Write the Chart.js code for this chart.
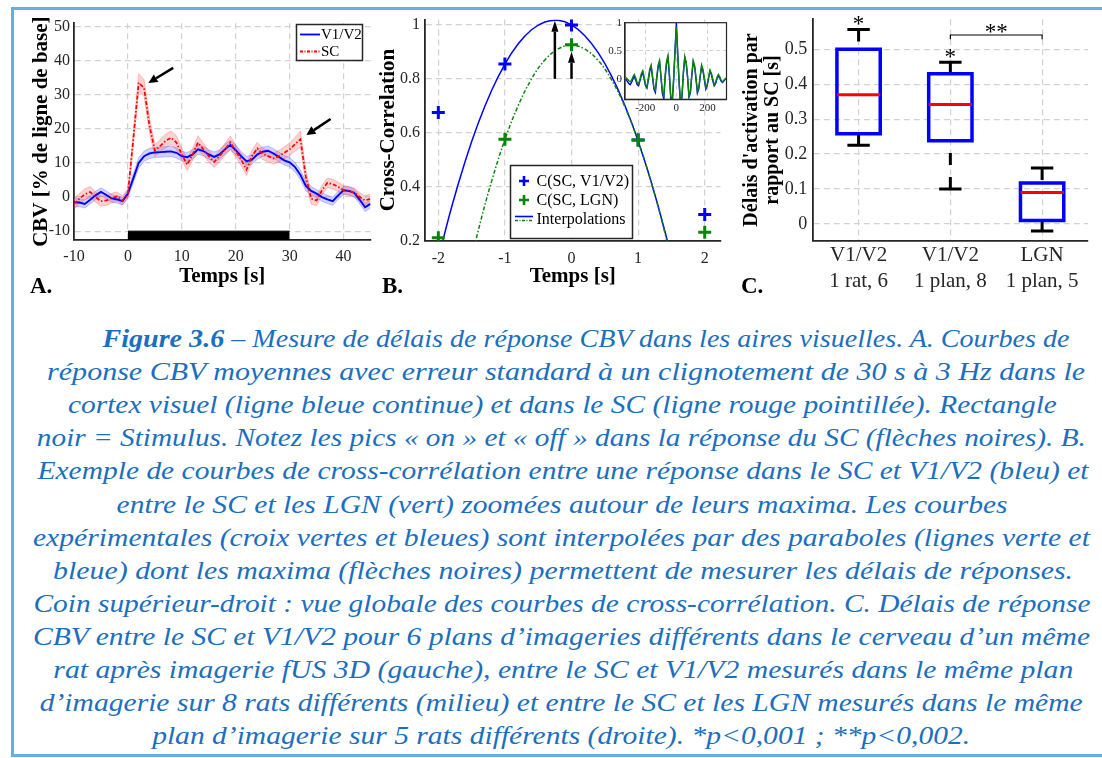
<!DOCTYPE html>
<html lang="fr">
<head>
<meta charset="utf-8">
<title>Figure 3.6</title>
<script src="https://cdn.jsdelivr.net/npm/chart.js@4.4.1/dist/chart.umd.min.js"></script>
<style>
  html, body { margin:0; padding:0; background:#ffffff; }
  body { position:relative; width:1102px; height:758px; overflow:hidden; }
  .bar { position:absolute; background:#62b1e6; }
  canvas { position:absolute; }
  .plabel { position:absolute; font:bold 23px "Liberation Serif", serif; color:#000; line-height:23px; }
  .capline { position:absolute; left:0; width:1102px; height:32px; line-height:32px; text-align:center; white-space:nowrap; color:#1b6fbe; font-family:"Liberation Serif", serif; font-style:italic; font-size:25px; }
  .capline span { display:inline-block; transform-origin:50% 50%; }
</style>
</head>
<body>
<div class="bar" style="left:11px;top:7px;width:1091px;height:3px"></div>
<div class="bar" style="left:11px;top:7px;width:3px;height:750px"></div>
<div class="bar" style="left:11px;top:754px;width:1091px;height:3px"></div>

<canvas id="cA" width="380" height="300" style="left:0;top:0"></canvas>
<canvas id="cB" width="355" height="300" style="left:375px;top:0"></canvas>
<canvas id="cIn" width="137" height="105" style="left:595px;top:12px"></canvas>
<canvas id="cC" width="372" height="300" style="left:730px;top:0"></canvas>
<div class="plabel" style="left:30px;top:274px">A.</div>
<div class="plabel" style="left:382px;top:274px">B.</div>
<div class="plabel" style="left:741px;top:274px">C.</div>
<div id="caption"></div>

<script>
// ---------------- DATA ----------------
// Panel A : time course (s)
const timeA = [-10,-9,-8,-7,-6,-5,-4,-3,-2,-1,0,1,2,3,4,5,6,7,8,9,10,11,12,13,14,15,16,17,18,19,20,21,22,23,24,25,26,27,28,29,30,31,32,33,34,35,36,37,38,39,40,41,42,43,44,45];
const v1v2 = [-1.5,-1.6,-2,-0.8,0.5,1.5,0.6,-0.4,-0.7,-1.2, 1,5.5,10,12,12.8,13.1,13.2,13.3,13.4,13, 12,11.7,12.5,14,13.5,12.5,11.8,12.5,14,15.3, 13.8,12,10.5,11,12.5,13.3,13.6,12.8,11.8,10.8, 10.2,8.8,6.5,3.3,1.8,1,0,-0.7,-1.2,0.5, 2,1.8,1.2,-0.8,-3,-2];
const v1v2Err = [1.2,1.2,1.2,1.2,1.2,1.2,1.2,1.1,1.1,1.1, 1.1,1.3,1.5,1.5,1.5,1.5,1.5,1.5,1.5,1.5, 1.4,1.4,1.4,1.4,1.4,1.4,1.4,1.4,1.4,1.4, 1.4,1.4,1.4,1.4,1.4,1.4,1.4,1.4,1.4,1.4, 1.4,1.4,1.4,1.4,1.3,1.2,1.2,1.2,1.2,1.2, 1.2,1.2,1.2,1.2,1.2,1.2];
const sc = [-2,-0.5,0.8,1.5,0,-1.2,-1,-0.3,0.2,-1, 1,17,33.6,32,21,13.6,15,16.5,17.4,16, 12.5,9.5,12.5,16,14,12,10.3,12,14,16, 13.5,11,8,12,14.3,12.7,12,11.3,12,13, 14,15.5,17,6,-0.5,-1,2,4.2,3.8,3, 2,1.8,1.3,0,-1,-0.5];
const scErr = [1.5,1.5,1.6,1.6,1.5,1.5,1.4,1.4,1.3,1.3, 1.5,2,2.6,2.5,2.2,1.8,1.8,2,2,2, 1.8,1.7,1.8,2,1.8,1.7,1.6,1.6,1.8,1.9, 1.8,1.7,1.6,1.7,1.8,1.7,1.6,1.6,1.7,1.8, 1.9,2,2.4,2,1.6,1.5,1.4,1.4,1.4,1.4, 1.3,1.3,1.3,1.3,1.4,1.4];
const seriesA = ['V1/V2', 'SC'];
const stimOn = 0, stimOff = 30, stimLevel = -10;
const ticksAx = [-10,0,10,20,30,40];
const ticksAy = [-10,0,10,20,30,40,50];
const arrowsA = [ {x0:8.4, y0:37.9, x1:3.8, y1:33.5}, {x0:37.6, y0:22.9, x1:33.1, y1:18.2} ];

// Panel B : cross-correlation around maximum
const lagsB = [-2,-1,0,1,2];
const ccV1 = [0.675,0.855,1.0,0.573,0.297];
const ccLGN = [0.211,0.576,0.926,0.573,0.231];
const fitX = [-2.0,-1.8,-1.6,-1.4,-1.2,-1.0,-0.8,-0.6,-0.4,-0.2,0,0.2,0.4,0.6,0.8,1.0,1.2,1.4,1.6];
const fitV1 = [0.135,0.325,0.492,0.636,0.757,0.855,0.930,0.982,1.011,1.017,1.0,0.960,0.897,0.811,0.702,0.570,0.415,0.237,0.036];
const fitLGN = [-0.48,-0.213,0.027,0.238,0.420,0.575,0.701,0.800,0.870,0.911,0.925,0.910,0.868,0.797,0.697,0.570,0.414,0.231,0.019];
const seriesB = ['C(SC, V1/V2)', 'C(SC, LGN)', 'Interpolations'];
const ticksBx = [-2,-1,0,1,2];
const ticksBy = [0.2,0.4,0.6,0.8,1];
const arrowsB = [ {x:-0.25, y0:0.8, y1:1.015}, {x:0, y0:0.8, y1:0.9} ];

// Inset : global cross-correlation
const lagsIn = [-324,-315,-306,-297,-288,-279,-270,-261,-252,-243,-234,-225,-216,-207,-198,-189,-180,-171,-162,-153,-144,-135,-126,-117,-108,-99,-90,-81,-72,-63,-54,-45,-36,-27,-18,-9,0,9,18,27,36,45,54,63,72,81,90,99,108,117,126,135,144,153,162,171,180,189,198,207,216,225,234,243,252,261,270,279,288,297,306,315,324];
const inV1 = [0.0,-0.04,-0.08,-0.1,-0.06,0.0,0.05,-0.02,-0.1,-0.12,-0.03,0.06,0.12,0.0,-0.12,-0.16,-0.02,0.14,0.22,0.02,-0.18,-0.24,0.0,0.22,0.3,0.04,-0.26,-0.35,0.02,0.28,0.38,0.06,-0.35,-0.45,-0.05,0.5,1.0,0.45,-0.1,-0.45,-0.32,0.1,0.38,0.28,0.02,-0.32,-0.25,0.05,0.3,0.22,0.0,-0.25,-0.18,0.04,0.22,0.14,-0.02,-0.18,-0.12,0.02,0.14,0.08,-0.03,-0.12,-0.08,0.01,0.06,0.02,-0.04,-0.06,-0.03,0.0,0.01];
const inLGN = [0.03,0.0,-0.03,-0.05,-0.02,0.04,0.08,0.02,-0.06,-0.09,0.0,0.1,0.15,0.03,-0.1,-0.14,0.02,0.18,0.25,0.05,-0.15,-0.2,0.05,0.25,0.33,0.06,-0.22,-0.3,0.08,0.32,0.42,0.1,-0.3,-0.4,0.0,0.45,0.93,0.4,-0.05,-0.42,-0.28,0.12,0.4,0.3,0.05,-0.3,-0.22,0.08,0.33,0.24,0.04,-0.22,-0.15,0.06,0.25,0.17,0.02,-0.15,-0.1,0.04,0.16,0.1,0.0,-0.1,-0.06,0.03,0.08,0.04,-0.02,-0.05,-0.02,0.01,0.02];
const ticksInX = [-200,0,200];
const ticksInY = [0,0.5,1];

// Panel C : activation delays (box plots)
const groupsC = ['V1/V2','V1/V2','LGN'];
const subC = ['1 rat, 6','1 plan, 8','1 plan, 5'];
const loC  = [0.225, 0.100, -0.020];
const q1C  = [0.258, 0.238, 0.010];
const medC = [0.370, 0.342, 0.090];
const q3C  = [0.500, 0.430, 0.117];
const hiC  = [0.557, 0.463, 0.160];
const ticksCy = [0,0.1,0.2,0.3,0.4,0.5];
const starsC = [ {x:1, y:0.586, t:'*'}, {x:2, y:0.493, t:'*'}, {x:2.5, y:0.565, t:'**'} ];
const sigPair = [2,3], sigLevel = 0.541, sigDrop = 0.012;

const captionLines = [
 'Figure 3.6 – Mesure de délais de réponse CBV dans les aires visuelles. A. Courbes de',
 'réponse CBV moyennes avec erreur standard à un clignotement de 30 s à 3 Hz dans le',
 'cortex visuel (ligne bleue continue) et dans le SC (ligne rouge pointillée). Rectangle',
 'noir = Stimulus. Notez les pics « on » et « off » dans la réponse du SC (flèches noires). B.',
 'Exemple de courbes de cross-corrélation entre une réponse dans le SC et V1/V2 (bleu) et',
 'entre le SC et les LGN (vert) zoomées autour de leurs maxima. Les courbes',
 'expérimentales (croix vertes et bleues) sont interpolées par des paraboles (lignes verte et',
 'bleue) dont les maxima (flèches noires) permettent de mesurer les délais de réponses.',
 'Coin supérieur-droit : vue globale des courbes de cross-corrélation. C. Délais de réponse',
 'CBV entre le SC et V1/V2 pour 6 plans d’imageries différents dans le cerveau d’un même',
 'rat après imagerie fUS 3D (gauche), entre le SC et V1/V2 mesurés dans le même plan',
 'd’imagerie sur 8 rats différents (milieu) et entre le SC et les LGN mesurés dans le même',
 'plan d’imagerie sur 5 rats différents (droite). *p<0,001 ; **p<0,002.'
];
const captionBold = 'Figure 3.6';

// ---------------- LAYOUT / STYLE ----------------
const FONT = '"Liberation Serif", "Times New Roman", serif';
const AXIS = '#262626';
const GRID = '#d2d2d2';
const BLUE = '#0000ff', RED = '#ff0000', GREEN = '#0a850a';
const capSpans = [[103,1070],[47,1085],[68,1057],[37,1086],[37,1088],[117,1008],[33,1090],[53,1073],[33,1090],[33,1090],[53,1073],[40,1083],[152,970]];
const capY0 = 339, capDY = 33.1;

Chart.defaults.font.family = FONT;

const numLabel = v => String(v);
function tickSetter(vals){ return s => { s.ticks = vals.map(v => ({value:v})); }; }
function baseScale(o){
  return Object.assign({
    type:'linear',
    grid:{color:GRID, lineWidth:1.2, drawTicks:false},
    border:{display:true, color:AXIS, width:1.8, dash:[6,4]},
  }, o);
}
function xFit(h){ return s => { s.height = h; s.paddingLeft = 0; s.paddingRight = 0; }; }
function yFit(w){ return s => { s.width = w; s.paddingTop = 0; s.paddingBottom = 0; }; }
const common = { responsive:false, animation:false, devicePixelRatio:1, events:[],
  plugins:{ legend:{display:false}, tooltip:{enabled:false} } };

function drawArrow(ctx, x0, y0, x1, y1, head, hw, lw){
  const a = Math.atan2(y1-y0, x1-x0);
  const bx = x1 - head*Math.cos(a), by = y1 - head*Math.sin(a);
  ctx.save();
  ctx.strokeStyle = '#000'; ctx.fillStyle = '#000'; ctx.lineWidth = lw; ctx.setLineDash([]);
  ctx.beginPath(); ctx.moveTo(x0,y0); ctx.lineTo(bx,by); ctx.stroke();
  ctx.beginPath();
  ctx.moveTo(x1,y1);
  ctx.lineTo(bx + hw*Math.sin(a), by - hw*Math.cos(a));
  ctx.lineTo(bx - hw*Math.sin(a), by + hw*Math.cos(a));
  ctx.closePath(); ctx.fill();
  ctx.restore();
}

// ---------------- PANEL A ----------------
const pts = (xs, ys) => xs.map((x,i) => ({x:x, y:ys[i]}));
const v1Lo = v1v2.map((v,i) => v - v1v2Err[i]), v1Hi = v1v2.map((v,i) => v + v1v2Err[i]);
const scLo = sc.map((v,i) => v - scErr[i]), scHi = sc.map((v,i) => v + scErr[i]);

const pluginA = { id:'annA', afterDraw(chart){
  const ctx = chart.ctx, X = chart.scales.x, Y = chart.scales.y;
  arrowsA.forEach(a => drawArrow(ctx, X.getPixelForValue(a.x0), Y.getPixelForValue(a.y0), X.getPixelForValue(a.x1), Y.getPixelForValue(a.y1), 9, 4.5, 2.5));
  ctx.save();
  ctx.fillStyle = '#fff'; ctx.fillRect(296,24,67,37);
  ctx.strokeStyle = AXIS; ctx.lineWidth = 1.5; ctx.strokeRect(296.5,24.5,66,36);
  ctx.lineWidth = 1.8; ctx.strokeStyle = BLUE; ctx.beginPath(); ctx.moveTo(300,34.5); ctx.lineTo(320,34.5); ctx.stroke();
  ctx.strokeStyle = RED; ctx.setLineDash([3,1.5,1,1.5]); ctx.beginPath(); ctx.moveTo(300,51.5); ctx.lineTo(320,51.5); ctx.stroke();
  ctx.setLineDash([]);
  ctx.fillStyle = '#000'; ctx.font = '15px ' + FONT; ctx.textBaseline = 'middle'; ctx.textAlign = 'left';
  ctx.fillText(seriesA[0], 321, 35.5); ctx.fillText(seriesA[1], 321, 52);
  ctx.restore();
}};

new Chart(document.getElementById('cA'), {
  type:'line',
  data:{ datasets:[
    {data:pts(timeA, v1Lo), borderColor:'rgba(60,60,255,0.35)', borderWidth:0.8, pointRadius:0, fill:false, order:6},
    {data:pts(timeA, v1Hi), borderColor:'rgba(60,60,255,0.35)', borderWidth:0.8, pointRadius:0, fill:'-1', backgroundColor:'rgba(60,80,255,0.25)', order:6},
    {data:pts(timeA, scLo), borderColor:'rgba(255,60,60,0.35)', borderWidth:0.8, pointRadius:0, fill:false, order:5},
    {data:pts(timeA, scHi), borderColor:'rgba(255,60,60,0.35)', borderWidth:0.8, pointRadius:0, fill:'-1', backgroundColor:'rgba(255,70,70,0.25)', order:5},
    {label:seriesA[0], data:pts(timeA, v1v2), borderColor:BLUE, borderWidth:1.9, pointRadius:0, fill:false, order:2},
    {label:seriesA[1], data:pts(timeA, sc), borderColor:RED, borderWidth:1.7, borderDash:[4,2,1.5,2], pointRadius:0, fill:false, order:1},
    {data:[{x:stimOn,y:stimLevel},{x:stimOff,y:stimLevel}], borderColor:'#000', borderWidth:1, backgroundColor:'#000', pointRadius:0, fill:'start', order:0}
  ]},
  options: Object.assign({}, common, {
    layout:{padding:{left:0, top:23.3, right:9.5, bottom:0}},
    scales:{
      x: baseScale({min:-10, max:45, afterBuildTicks:tickSetter(ticksAx), afterFit:xFit(60),
        ticks:{font:{size:16}, color:AXIS, padding:7, maxRotation:0, autoSkip:false, callback:numLabel},
        title:{display:true, text:'Temps [s]', color:'#000', font:{size:21, weight:'bold'}, padding:{top:0, bottom:10.4}}}),
      y: baseScale({min:-12.6, max:51, afterBuildTicks:tickSetter(ticksAy), afterFit:yFit(74),
        ticks:{font:{size:16}, color:AXIS, padding:4, callback:numLabel},
        title:{display:true, text:'CBV [% de ligne de base]', color:'#000', font:{size:21, weight:'bold'}, padding:{top:29.4, bottom:0}}})
    }
  }),
  plugins:[pluginA]
});

// ---------------- PANEL B ----------------
const pluginB = { id:'annB', afterDraw(chart){
  const ctx = chart.ctx, X = chart.scales.x, Y = chart.scales.y;
  arrowsB.forEach(a => { const x = X.getPixelForValue(a.x); drawArrow(ctx, x, Y.getPixelForValue(a.y0), x, Y.getPixelForValue(a.y1), 11, 3.5, 2.5); });
  const L = 135, T = 165, W = 123, H = 74;
  ctx.save();
  ctx.fillStyle = '#fff'; ctx.fillRect(L,T,W,H);
  ctx.strokeStyle = AXIS; ctx.lineWidth = 1.5; ctx.strokeRect(L+0.5,T+0.5,W-1,H-1);
  const cross = (cx, cy, col) => { ctx.strokeStyle = col; ctx.lineWidth = 2.6; ctx.beginPath(); ctx.moveTo(cx-5,cy); ctx.lineTo(cx+5,cy); ctx.moveTo(cx,cy-5); ctx.lineTo(cx,cy+5); ctx.stroke(); };
  cross(149, 181, BLUE); cross(149, 200, GREEN);
  ctx.lineWidth = 1.6; ctx.strokeStyle = BLUE; ctx.beginPath(); ctx.moveTo(140,216.5); ctx.lineTo(158,216.5); ctx.stroke();
  ctx.strokeStyle = GREEN; ctx.setLineDash([3,1.5,1,1.5]); ctx.beginPath(); ctx.moveTo(140,220.5); ctx.lineTo(158,220.5); ctx.stroke();
  ctx.setLineDash([]);
  ctx.fillStyle = '#000'; ctx.font = '16px ' + FONT; ctx.textBaseline = 'middle'; ctx.textAlign = 'left';
  ctx.fillText(seriesB[0], 161.5, 181.5); ctx.fillText(seriesB[1], 161.5, 200.5); ctx.fillText(seriesB[2], 161.5, 219.5);
  ctx.restore();
}};

new Chart(document.getElementById('cB'), {
  type:'line',
  data:{ datasets:[
    {label:'fitV1', data:pts(fitX, fitV1), borderColor:BLUE, borderWidth:1.5, pointRadius:0, tension:0.4, fill:false, order:4},
    {label:'fitLGN', data:pts(fitX, fitLGN), borderColor:GREEN, borderWidth:1.5, borderDash:[4,2,1.5,2], pointRadius:0, tension:0.4, fill:false, order:3},
    {label:seriesB[0], data:pts(lagsB, ccV1), showLine:false, pointStyle:'cross', pointRadius:6.5, pointBorderWidth:3, pointBorderColor:BLUE, borderColor:BLUE, order:2},
    {label:seriesB[1], data:pts(lagsB, ccLGN), showLine:false, pointStyle:'cross', pointRadius:6.5, pointBorderWidth:3, pointBorderColor:GREEN, borderColor:GREEN, order:1}
  ]},
  options: Object.assign({}, common, {
    layout:{padding:{left:0, top:19.5, right:7.3, bottom:0}},
    scales:{
      x: baseScale({min:-2.2, max:2.237, afterBuildTicks:tickSetter(ticksBx), afterFit:xFit(59.3),
        ticks:{font:{size:16}, color:AXIS, padding:8, maxRotation:0, autoSkip:false, callback:numLabel},
        title:{display:true, text:'Temps [s]', color:'#000', font:{size:21, weight:'bold'}, padding:{top:0, bottom:10.4}}}),
      y: baseScale({min:0.2, max:1.02, afterBuildTicks:tickSetter(ticksBy), afterFit:yFit(50),
        ticks:{font:{size:16}, color:AXIS, padding:5, callback:numLabel},
        title:{display:true, text:'Cross-Correlation', color:'#000', font:{size:21, weight:'bold'}, padding:{top:1.4, bottom:0}}})
    }
  }),
  plugins:[pluginB]
});

// ---------------- INSET ----------------
const pluginIn = { id:'annIn',
  beforeDraw(chart){ const a = chart.chartArea, ctx = chart.ctx; ctx.save(); ctx.fillStyle = '#fff'; ctx.fillRect(a.left, a.top, a.right-a.left, a.bottom-a.top); ctx.restore(); },
  afterDraw(chart){ const a = chart.chartArea, ctx = chart.ctx; ctx.save(); ctx.strokeStyle = AXIS; ctx.lineWidth = 1.2; ctx.strokeRect(a.left, a.top, a.right-a.left, a.bottom-a.top); ctx.restore(); }
};
new Chart(document.getElementById('cIn'), {
  type:'line',
  data:{ datasets:[
    {data:pts(lagsIn, inV1), borderColor:BLUE, borderWidth:1.4, pointRadius:0, tension:0, fill:false, order:2},
    {data:pts(lagsIn, inLGN), borderColor:GREEN, borderWidth:1.4, pointRadius:0, tension:0, fill:false, order:1}
  ]},
  options: Object.assign({}, common, {
    layout:{padding:{left:0, top:10.7, right:5.5, bottom:0}},
    scales:{
      x: baseScale({min:-330, max:322, afterBuildTicks:tickSetter(ticksInX), afterFit:xFit(17.7),
        grid:{color:GRID, lineWidth:1, drawTicks:false}, border:{display:true, color:AXIS, width:1.2, dash:[4,3]},
        ticks:{font:{size:11}, color:AXIS, padding:2, maxRotation:0, autoSkip:false, callback:numLabel}}),
      y: baseScale({min:-0.36, max:1.0, afterBuildTicks:tickSetter(ticksInY), afterFit:yFit(30),
        grid:{color:GRID, lineWidth:1, drawTicks:false}, border:{display:true, color:AXIS, width:1.2, dash:[4,3]},
        ticks:{font:{size:11}, color:AXIS, padding:3, callback:numLabel}})
    }
  }),
  plugins:[pluginIn]
});

// ---------------- PANEL C ----------------
const BOX_HW = 0.236, CAP_HW = 0.122;
const boxPts = [], medPts = [], whPts = [], capPts = [];
groupsC.forEach((g, i) => {
  const c = i + 1;
  boxPts.push({x:c-BOX_HW,y:q1C[i]},{x:c+BOX_HW,y:q1C[i]},{x:c+BOX_HW,y:q3C[i]},{x:c-BOX_HW,y:q3C[i]},{x:c-BOX_HW,y:q1C[i]},{x:c,y:null});
  medPts.push({x:c-BOX_HW,y:medC[i]},{x:c+BOX_HW,y:medC[i]},{x:c,y:null});
  whPts.push({x:c,y:hiC[i]},{x:c,y:q3C[i]},{x:c,y:null},{x:c,y:loC[i]},{x:c,y:q1C[i]},{x:c,y:null});
  capPts.push({x:c-CAP_HW,y:hiC[i]},{x:c+CAP_HW,y:hiC[i]},{x:c,y:null},{x:c-CAP_HW,y:loC[i]},{x:c+CAP_HW,y:loC[i]},{x:c,y:null});
});
const sigPts = [{x:sigPair[0],y:sigLevel-sigDrop},{x:sigPair[0],y:sigLevel},{x:sigPair[1],y:sigLevel},{x:sigPair[1],y:sigLevel-sigDrop}];

const pluginC = { id:'annC', afterDraw(chart){
  const ctx = chart.ctx, X = chart.scales.x, Y = chart.scales.y;
  ctx.save();
  ctx.fillStyle = '#000'; ctx.font = '23px ' + FONT; ctx.textAlign = 'center'; ctx.textBaseline = 'alphabetic';
  starsC.forEach(s => ctx.fillText(s.t, X.getPixelForValue(s.x), Y.getPixelForValue(s.y) + 12));
  ctx.restore();
}};

new Chart(document.getElementById('cC'), {
  type:'line',
  data:{ datasets:[
    {data:sigPts, borderColor:'#000', borderWidth:1.2, pointRadius:0, tension:0, fill:false, order:5},
    {data:whPts, borderColor:'#000', borderWidth:3, borderDash:[12,12], borderCapStyle:'butt', pointRadius:0, tension:0, fill:false, spanGaps:false, order:4},
    {data:capPts, borderColor:'#000', borderWidth:3, pointRadius:0, tension:0, fill:false, spanGaps:false, order:3},
    {data:boxPts, borderColor:BLUE, borderWidth:3.5, borderCapStyle:'square', borderJoinStyle:'miter', pointRadius:0, tension:0, fill:false, spanGaps:false, order:2},
    {data:medPts, borderColor:RED, borderWidth:3, pointRadius:0, tension:0, fill:false, spanGaps:false, order:1}
  ]},
  options: Object.assign({}, common, {
    layout:{padding:{left:0, top:19.3, right:14, bottom:0}},
    scales:{
      x: baseScale({min:0.5, max:3.5, afterBuildTicks:tickSetter([1,2,3]), afterFit:xFit(59.3),
        ticks:{font:{size:21, lineHeight:1.27}, color:AXIS, padding:1, maxRotation:0, autoSkip:false,
          callback:(v) => [groupsC[v-1], subC[v-1]]}}),
      y: baseScale({min:-0.048, max:0.586, afterBuildTicks:tickSetter(ticksCy), afterFit:yFit(82.7),
        ticks:{font:{size:18}, color:AXIS, padding:5.5, callback:numLabel},
        title:{display:true, text:["Délais d'activation par", 'rapport au SC [s]'], color:'#000', font:{size:20, weight:'bold', lineHeight:1.08}, padding:{top:10.9, bottom:0}}})
    }
  }),
  plugins:[pluginC]
});

// ---------------- CAPTION ----------------
const capHost = document.getElementById('caption');
captionLines.forEach((line, i) => {
  const div = document.createElement('div');
  div.className = 'capline';
  div.style.top = (capY0 + i*capDY - 16) + 'px';
  const span = document.createElement('span');
  if (i === 0 && line.startsWith(captionBold)) {
    const b = document.createElement('b'); b.textContent = captionBold;
    span.appendChild(b); span.appendChild(document.createTextNode(line.slice(captionBold.length)));
  } else {
    span.textContent = line;
  }
  div.appendChild(span); capHost.appendChild(div);
});
function fitCaption(){
  document.querySelectorAll('.capline span').forEach((sp, i) => {
    sp.style.transform = '';
    const w = sp.getBoundingClientRect().width;
    const [L, R] = capSpans[i];
    const s = (R - L) / w;
    sp.style.transform = 'translateX(' + ((L + R)/2 - 551) + 'px) scaleX(' + s.toFixed(4) + ')';
  });
}
fitCaption();
if (document.fonts && document.fonts.ready) document.fonts.ready.then(fitCaption);
</script>
</body>
</html>
